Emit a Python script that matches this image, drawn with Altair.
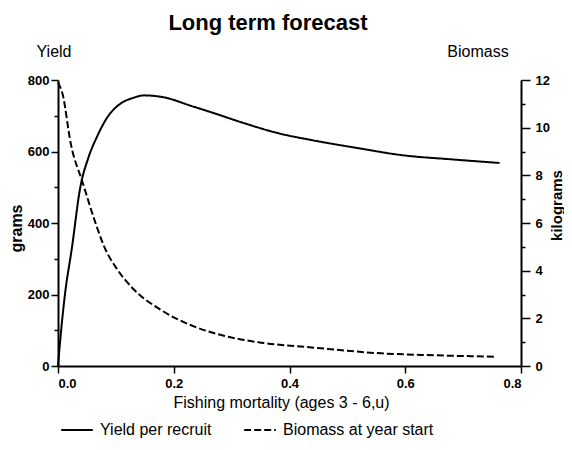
import altair as alt
import pandas as pd

# ---- data ----
yield_F = [0.0, 0.004, 0.012, 0.024, 0.038, 0.053, 0.067, 0.085, 0.109, 0.13, 0.149,
           0.178, 0.235, 0.27, 0.322, 0.381, 0.438, 0.52, 0.593, 0.68, 0.763]
yield_g = [0, 75, 200, 330, 495, 585, 640, 695, 735, 750, 757,
           753, 725, 707, 679, 651, 632, 609, 590, 578, 568]

bio_F = [0.0, 0.008, 0.022, 0.043, 0.063, 0.080, 0.103, 0.132, 0.178, 0.236,
         0.294, 0.351, 0.438, 0.559, 0.65, 0.754]
bio_kg = [11.9, 11.4, 9.34, 7.67, 6.13, 5.0, 4.03, 3.19, 2.35, 1.65,
          1.23, 0.98, 0.78, 0.53, 0.45, 0.39]

series_names = ["Yield per recruit", "Biomass at year start"]
x_ticks = [0.0, 0.2, 0.4, 0.6, 0.8]
left_ticks = list(range(0, 801, 100))
right_ticks = list(range(0, 13, 1))

title_text = "Long term forecast"
left_label = "Yield"
right_label = "Biomass"
x_title = "Fishing mortality (ages 3 - 6,u)"
left_title = "grams"
right_title = "kilograms"

FONT = "Liberation Sans"

df_yield = pd.DataFrame({"F": yield_F, "value": yield_g, "series": series_names[0]})
df_bio = pd.DataFrame({"F": bio_F, "value": bio_kg, "series": series_names[1]})

W, H = 463, 286

axis_common = dict(
    domainColor="black", domainWidth=2, tickColor="black", tickWidth=1.5,
    labelFont=FONT, labelFontWeight="bold", labelFontSize=13, labelColor="black",
    titleFont=FONT, titleColor="black", grid=False,
)

x_enc = alt.X(
    "F:Q",
    scale=alt.Scale(domain=[0, 0.8], nice=False),
    axis=alt.Axis(values=x_ticks, format=".1f", title=x_title, tickSize=7, labelPadding=4,
                  titleFontSize=16, titleFontWeight="normal", titleX=223, titleY=36,
                  titleBaseline="middle", titleAlign="center", **axis_common),
)

dash_enc = alt.StrokeDash(
    "series:N",
    scale=alt.Scale(domain=series_names, range=[[1, 0], [7, 3]]),
    legend=alt.Legend(orient="none", legendX=2, legendY=333, direction="horizontal",
                      title=None, symbolType="stroke", symbolSize=1000, padding=0,
                      symbolStrokeWidth=2, symbolStrokeColor="black",
                      labelFont=FONT, labelFontSize=16, labelColor="black",
                      labelOffset=6, columnPadding=28),
)

yield_line = alt.Chart(df_yield).mark_line(color="black", strokeWidth=2, interpolate="monotone").encode(
    x=x_enc,
    y=alt.Y("value:Q", scale=alt.Scale(domain=[0, 800], nice=False),
            axis=alt.Axis(orient="left", values=left_ticks,
                          labelExpr="datum.value % 200 == 0 ? datum.label : ''",
                          tickSize={"condition": {"test": "datum.value % 200 != 0", "value": 4}, "value": 7},
                          labelPadding=2, title=left_title, titleFontSize=16, titleFontWeight="bold",
                          titleAngle=270, titleX=-42, titleY=148, titleAlign="center",
                          titleBaseline="middle", **axis_common)),
    strokeDash=dash_enc,
)

bio_line = alt.Chart(df_bio).mark_line(color="black", strokeWidth=2, interpolate="monotone").encode(
    x=x_enc,
    y=alt.Y("value:Q", scale=alt.Scale(domain=[0, 12], nice=False),
            axis=alt.Axis(orient="right", values=right_ticks,
                          labelExpr="datum.value % 2 == 0 ? datum.label : ''",
                          tickSize={"condition": {"test": "datum.value % 2 != 0", "value": 4}, "value": 9},
                          labelPadding=5, title=right_title, titleFontSize=15, titleFontWeight="bold",
                          titleAngle=270, titleX=35, titleY=125, titleAlign="center",
                          titleBaseline="middle", **axis_common)),
    strokeDash=dash_enc,
)


def annot(txt, x, y, size, weight):
    return alt.Chart(pd.DataFrame({"t": [txt]})).mark_text(
        font=FONT, fontSize=size, fontWeight=weight, color="black",
        align="center", baseline="middle",
    ).encode(text="t:N", x=alt.value(x), y=alt.value(y))


chart = alt.layer(
    yield_line, bio_line,
    annot(title_text, 210, -57, 22, "bold"),
    annot(left_label, -4, -28, 16, "normal"),
    annot(right_label, 420, -28, 16, "normal"),
).resolve_scale(y="independent").properties(
    width=W, height=H,
    autosize=alt.AutoSizeParams(type="none"),
    padding={"left": 50, "top": 72, "right": 43, "bottom": 76},
    background="white",
).configure_view(stroke=None)

chart.save("out.html", embed_options={"renderer": "svg", "actions": False})
